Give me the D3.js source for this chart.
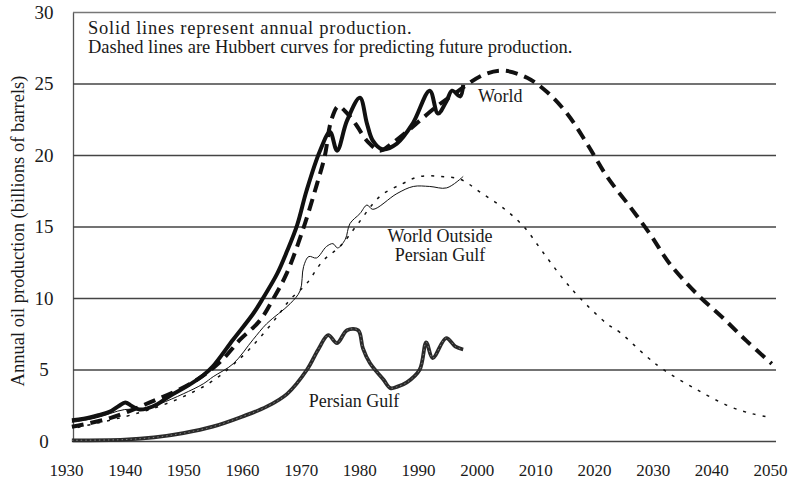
<!DOCTYPE html>
<html>
<head>
<meta charset="utf-8">
<script src="https://cdn.jsdelivr.net/npm/d3@7"></script>
<style>
  body { margin: 0; background: #fff; }
</style>
</head>
<body>
<div class="canvas"></div>
<script>
'use strict';

// Tick labels
var xTicks = [1930, 1940, 1950, 1960, 1970, 1980, 1990, 2000, 2010, 2020, 2030, 2040, 2050];
var yTicks = [0, 5, 10, 15, 20, 25, 30];

// Annual production, [year, billions of barrels]
var worldActual = [[1931, 1.45], [1933, 1.55], [1935.5, 1.8], [1937.5, 2.05], [1939, 2.45], [1940.1, 2.7], [1941.2, 2.45],
  [1942.5, 2.2], [1944, 2.3], [1945.5, 2.55], [1947.7, 3.15], [1950.5, 3.8], [1953.4, 4.6], [1955, 5.2], [1958.5, 7.1],
  [1961.9, 8.9], [1963.6, 10.0], [1966, 11.7], [1967.7, 13.3], [1969.4, 15.1], [1971, 17.5], [1973.3, 20.3], [1975, 21.6],
  [1976.2, 20.3], [1977.9, 22.4], [1980.1, 24.0], [1981.3, 22.2], [1982.3, 21.0], [1983.9, 20.4], [1986.4, 20.8],
  [1989.1, 22.2], [1992, 24.5], [1993.4, 22.9], [1994.9, 23.8], [1995.8, 24.5], [1997.2, 24.1], [1997.7, 24.9]];

var outsideActual = [[1931, 1.3], [1935, 1.6], [1940, 2.2], [1943, 2.2], [1946, 2.6], [1950, 3.3], [1953.4, 4.0],
  [1955.1, 4.5], [1958.5, 5.4], [1961.9, 7.1], [1964.2, 8.2], [1968.2, 9.6], [1969.9, 10.5], [1970.5, 12.2],
  [1971.4, 12.9], [1972.7, 12.8], [1974.4, 13.6], [1975.5, 13.8], [1976.3, 13.5], [1977.6, 14.1], [1978.4, 15.2],
  [1980.1, 15.9], [1981.3, 16.5], [1982.3, 16.2], [1986.4, 17.3], [1989.2, 17.8], [1992, 17.8], [1994.9, 17.7], [1997.7, 18.5]];

var gulfActual = [[1931, 0.05], [1940, 0.1], [1945, 0.25], [1950, 0.55], [1955, 1.0], [1960, 1.7], [1964.2, 2.4],
  [1967.7, 3.3], [1971.1, 5.0], [1973, 6.4], [1974.7, 7.4], [1976.2, 6.85], [1977.9, 7.75], [1979.8, 7.75], [1980.6, 6.5],
  [1981.8, 5.45], [1984.1, 4.3], [1985.3, 3.7], [1986.5, 3.8], [1988.1, 4.1], [1990.3, 5.0], [1991.4, 6.9], [1992.5, 5.8],
  [1994.8, 7.2], [1996.4, 6.6], [1997.7, 6.4]];

// Hubbert curves, [year, billions of barrels]
var worldHubbert = [[1931, 1.0], [1937.5, 1.6], [1944.3, 2.7], [1951.6, 4.1], [1956.2, 5.5], [1959.7, 7.1], [1963, 8.4],
  [1965.4, 10.0], [1967.6, 11.7], [1970.4, 14.8], [1972.8, 18.0], [1974.1, 19.9], [1975.2, 22.4], [1976.4, 23.4],
  [1977.5, 23.1], [1979.3, 22.2], [1981.5, 20.9], [1983.5, 20.3], [1985.5, 20.8], [1988.3, 21.7], [1990.3, 22.4],
  [1993.2, 23.4], [1996.6, 24.4], [2001.1, 25.6], [2004.5, 25.9], [2008.6, 25.4], [2012, 24.4], [2015.4, 22.9],
  [2018.8, 20.8], [2022.2, 18.5], [2026.1, 16.4], [2029.5, 14.5], [2032.9, 12.4], [2037.5, 10.3], [2042, 8.6],
  [2046, 7.0], [2050.3, 5.4]];

var outsideHubbert = [[1932, 0.95], [1940, 1.7], [1945, 2.3], [1950, 3.1], [1955, 4.2], [1960, 5.9], [1963, 7.2],
  [1966, 8.7], [1968, 9.8], [1971, 11.0], [1973.8, 12.6], [1976.7, 13.6], [1979.6, 15.1], [1983.5, 17.1], [1987.4, 18.0],
  [1990.3, 18.5], [1993.7, 18.5], [1997.2, 18.3], [2000.6, 17.4], [2004.5, 16.3], [2008, 15.0], [2011.3, 13.2],
  [2015, 11.2], [2017.6, 10.0], [2022.2, 8.2], [2024.4, 7.6], [2029, 5.9], [2031.8, 5.0], [2037.5, 3.6], [2043.2, 2.4],
  [2047, 1.9], [2049.5, 1.7]];

var notes = ['Solid lines represent annual production.', 'Dashed lines are Hubbert curves for predicting future production.'];

var width = 788, height = 481;
var plotLeft = 73, plotRight = 776;
var serif = '"Liberation Serif", "Times New Roman", Times, serif';

var svg = d3.select('.canvas').append('svg').attr('width', width).attr('height', height)
  .style('font-family', serif);

var x = d3.scaleLinear().domain([1930, 2050]).range([66, 770]);
var y = d3.scaleLinear().domain([0, 30]).range([441, 12]);

// Y axis with gridlines
var yAxisGroup = svg.append('g').attr('transform', 'translate(' + plotLeft + ',0)')
  .call(d3.axisLeft(y).tickValues(yTicks).tickSize(-(plotRight - plotLeft)).tickSizeOuter(0));
yAxisGroup.attr('font-family', null).attr('font-size', null);
yAxisGroup.select('.domain').attr('stroke', '#555').attr('stroke-width', 1.3);
yAxisGroup.selectAll('.tick line').attr('stroke', function (d) { return d === 30 ? '#777' : '#444'; })
  .attr('stroke-width', 1.3);
yAxisGroup.selectAll('.tick text').attr('x', -29).attr('text-anchor', 'middle')
  .style('font-family', serif).style('font-size', '19px').attr('fill', '#1a1a1a');

// X axis labels only
var xAxisGroup = svg.append('g').attr('transform', 'translate(0,441)')
  .call(d3.axisBottom(x).tickValues(xTicks).tickFormat(d3.format('d')).tickSize(0).tickPadding(23));
xAxisGroup.attr('font-family', null).attr('font-size', null);
xAxisGroup.select('.domain').remove();
xAxisGroup.selectAll('.tick text').style('font-family', serif).style('font-size', '17px').attr('fill', '#1a1a1a');

// Axis title
svg.append('text').attr('transform', 'translate(24,231) rotate(-90)').attr('text-anchor', 'middle')
  .style('font-family', serif).style('font-size', '18.5px').attr('fill', '#1a1a1a')
  .text('Annual oil production (billions of barrels)');

var line = d3.line().x(function (d) { return x(d[0]); }).y(function (d) { return y(d[1]); })
  .curve(d3.curveCatmullRom.alpha(0.5));

var curves = svg.append('g').attr('fill', 'none').attr('stroke-linejoin', 'round');

curves.append('path').attr('d', line(outsideHubbert)).attr('stroke', '#111').attr('stroke-width', 1.5)
  .attr('stroke-dasharray', '3,7');
curves.append('path').attr('d', line(outsideActual)).attr('stroke', '#111').attr('stroke-width', 1);

curves.append('path').attr('d', line(gulfActual)).attr('stroke', '#2a2a2a').attr('stroke-width', 3.8);
curves.append('path').attr('d', line(gulfActual)).attr('stroke', '#808080').attr('stroke-width', 1)
  .attr('stroke-dasharray', '1.5,3');

curves.append('path').attr('d', line(worldHubbert)).attr('stroke', '#111').attr('stroke-width', 4)
  .attr('stroke-dasharray', '12,7');
curves.append('path').attr('d', line(worldActual)).attr('stroke', '#111').attr('stroke-width', 4);

// Notes and curve labels
var labels = svg.append('g').style('font-family', serif).style('font-size', '18px').attr('fill', '#1a1a1a');

labels.selectAll('.note').data(notes).enter().append('text').attr('class', 'note')
  .attr('x', 88).attr('y', function (d, i) { return 34 + i * 19; })
  .style('font-size', '18.5px')
  .style('letter-spacing', function (d, i) { return i === 0 ? '0.75px' : '0px'; })
  .text(function (d) { return d; });

labels.append('text').attr('x', 478).attr('y', 102).text('World');
labels.append('text').attr('x', 440).attr('y', 242).attr('text-anchor', 'middle').text('World Outside');
labels.append('text').attr('x', 440).attr('y', 261).attr('text-anchor', 'middle').text('Persian Gulf');
labels.append('text').attr('x', 354).attr('y', 407).attr('text-anchor', 'middle').text('Persian Gulf');
</script>
</body>
</html>
